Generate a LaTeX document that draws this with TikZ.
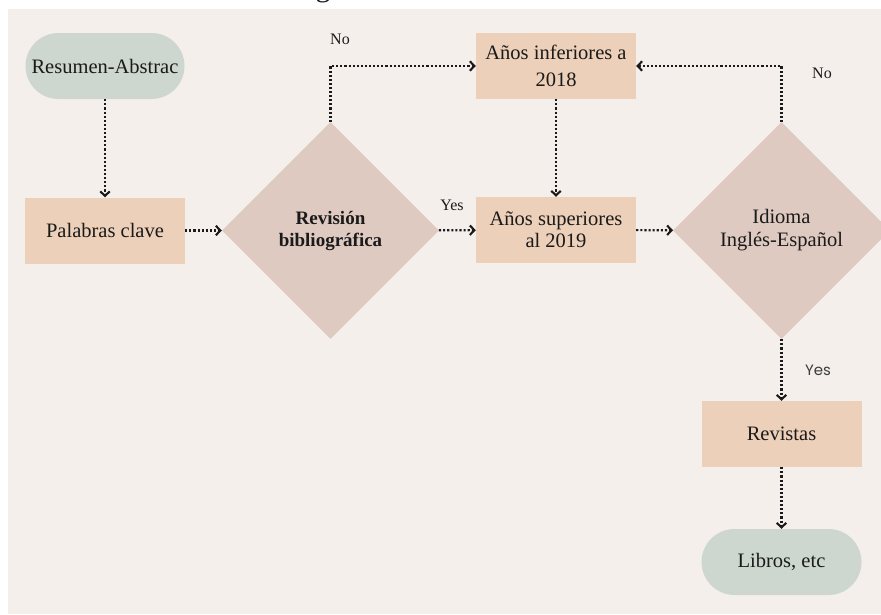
\documentclass[tikz,border=0pt]{standalone}
\usepackage{fontspec}
\setmainfont{Liberation Serif}
\newfontfamily\labsans{Poppins}
\usetikzlibrary{shapes.geometric,arrows.meta}
\definecolor{bgpanel}{HTML}{F4EFEA}
\definecolor{greenbox}{HTML}{CDD7CF}
\definecolor{peachbox}{HTML}{EDD0B9}
\definecolor{rosebox}{HTML}{DFCAC1}
\definecolor{inkc}{HTML}{1A1A1A}
\tikzset{
  boxtext/.style={text=inkc, font=\fontsize{20.5}{23}\selectfont, align=center},
  terminal/.style={boxtext, fill=greenbox, minimum width=159pt, minimum height=66pt, inner sep=0pt, rounded corners=33pt},
  process/.style={boxtext, fill=peachbox, minimum width=160pt, minimum height=66pt, inner sep=0pt},
  decision/.style={boxtext, fill=rosebox, diamond, aspect=1, minimum width=217pt, minimum height=217pt, inner sep=0pt},
  lab/.style={text=inkc, font=\fontsize{16}{18}\selectfont, inner sep=0pt},
  labs/.style={text=inkc!85, font=\labsans\fontsize{15}{18}\selectfont, inner sep=0pt},
  flow/.style={draw=inkc, line width=2.1pt, dash pattern=on 2.1pt off 2pt, -{Straight Barb[length=4.5pt,width=9.5pt,line width=2.1pt]}}
}
\begin{document}
\begin{tikzpicture}[x=1pt,y=-1pt]
\useasboundingbox (0,0) rectangle (881,614);
\fill[white] (0,0) rectangle (881,614);
\fill[bgpanel] (8,9) rectangle (881,614);
\node[text=inkc, font=\fontsize{30}{32}\selectfont, anchor=base, inner sep=0pt] (frag) at (323,-3.5) {g};

\node[terminal] (res) at (105,66) {Resumen-Abstrac};
\node[process] (pal) at (105,230.5) {Palabras clave};
\node[decision, font=\bfseries\fontsize{19}{22}\selectfont] (rev) at (330.5,230.5) {Revisión\\bibliográfica};
\node[process, font=\fontsize{20.5}{27}\selectfont] (inf) at (556,66) {Años inferiores a\\2018};
\node[process, font=\fontsize{20.5}{22}\selectfont] (sup) at (556,230) {Años superiores\\al 2019};
\node[decision, font=\fontsize{20.5}{23}\selectfont] (idi) at (781.5,230.5) {Idioma\\Inglés-Español};
\node[process] (revis) at (781.5,434) {Revistas};
\node[terminal, minimum width=160pt] (lib) at (781.5,562) {Libros, etc};

\draw[flow] (res) -- (pal);
\draw[flow] (pal) -- (rev);
\draw[flow] (rev) -- (sup);
\draw[flow] (rev.north) |- (inf.west);
\draw[flow] (inf) -- (sup);
\draw[flow] (sup) -- (idi);
\draw[flow] (idi.north) |- (inf.east);
\draw[flow] (idi) -- (revis);
\draw[flow] (revis) -- (lib);

\node[lab] (no1) at (340,39) {No};
\node[lab] (yes1) at (452,205) {Yes};
\node[lab] (no2) at (822,73) {No};
\node[labs] (yes2) at (818,370) {Yes};
\end{tikzpicture}
\end{document}
